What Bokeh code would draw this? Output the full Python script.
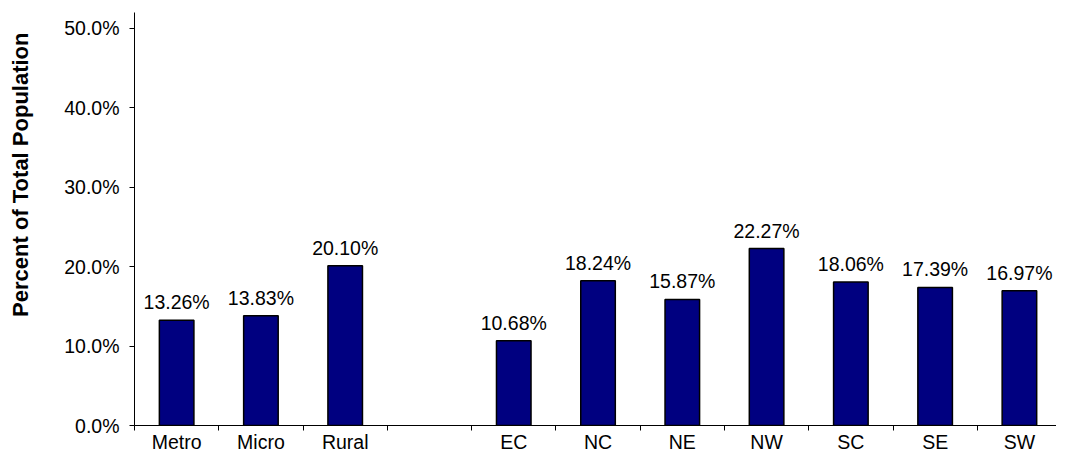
from bokeh.plotting import figure
from bokeh.models import ColumnDataSource, FixedTicker, PrintfTickFormatter, Range1d, Title
from bokeh.core.properties import value
from bokeh.embed import file_html
from bokeh.resources import INLINE

categories = ["Metro", "Micro", "Rural", "", "EC", "NC", "NE", "NW", "SC", "SE", "SW"]
values = [13.26, 13.83, 20.10, None, 10.68, 18.24, 15.87, 22.27, 18.06, 17.39, 16.97]
y_ticks = [0, 10, 20, 30, 40, 50]
y_title = "Percent of Total Population"

FONT = "Liberation Sans"

xs, tops, texts = [], [], []
for i, (c, v) in enumerate(zip(categories, values)):
    if v is None:
        continue
    xs.append(i + 0.5)
    tops.append(v)
    texts.append("%.2f%%" % v)
src = ColumnDataSource(dict(x=xs, top=tops, text=texts))

p = figure(width=1056, height=455, output_backend="svg", toolbar_location=None,
           x_range=Range1d(0, 10.94), y_range=Range1d(0, 52),
           min_border_left=132, min_border_right=0, min_border_top=12, min_border_bottom=27)
p.outline_line_color = None
p.xgrid.visible = False
p.ygrid.visible = False
p.background_fill_color = "white"
p.border_fill_color = "white"

p.vbar(x="x", top="top", width=0.41, bottom=0, source=src,
       fill_color="#000080", line_color="black", line_width=1.5)
p.text(x="x", y="top", text="text", source=src, text_align="center",
       text_baseline="alphabetic", y_offset=-18, text_color="black",
       text_font=value(FONT), text_font_size="19.5px")

# y axis
ya = p.yaxis[0]
ya.ticker = FixedTicker(ticks=y_ticks, minor_ticks=[])
ya.formatter = PrintfTickFormatter(format="%.1f%%")
ya.major_tick_in = 0
ya.major_tick_out = 5
ya.minor_tick_line_color = None
ya.major_label_standoff = 10
ya.major_label_text_font = FONT
ya.major_label_text_font_size = "19.5px"
ya.major_label_text_color = "black"
ya.axis_line_color = "black"
ya.major_tick_line_color = "black"
# spacer between tick labels and the title
ya.axis_label = " "
ya.axis_label_text_font_size = "2px"
ya.axis_label_standoff = 18

# x axis
xa = p.xaxis[0]
centers = [i + 0.5 for i in range(len(categories))]
xa.ticker = FixedTicker(ticks=centers, minor_ticks=list(range(len(categories) + 1)))
xa.major_label_overrides = {c: name for c, name in zip(centers, categories)}
xa.major_tick_line_color = None
xa.major_tick_in = 0
xa.major_tick_out = 5
xa.minor_tick_in = 0
xa.minor_tick_out = 5
xa.minor_tick_line_color = "black"
xa.axis_line_color = "black"
xa.major_label_standoff = 0
xa.major_label_text_font = FONT
xa.major_label_text_font_size = "19.5px"
xa.major_label_text_color = "black"

title = Title(text=y_title, align="right", offset=20, standoff=10,
              text_font=FONT, text_font_size="22px", text_font_style="bold",
              text_color="black")
p.add_layout(title, "left")

open("out.html", "w").write(file_html(p, INLINE))
